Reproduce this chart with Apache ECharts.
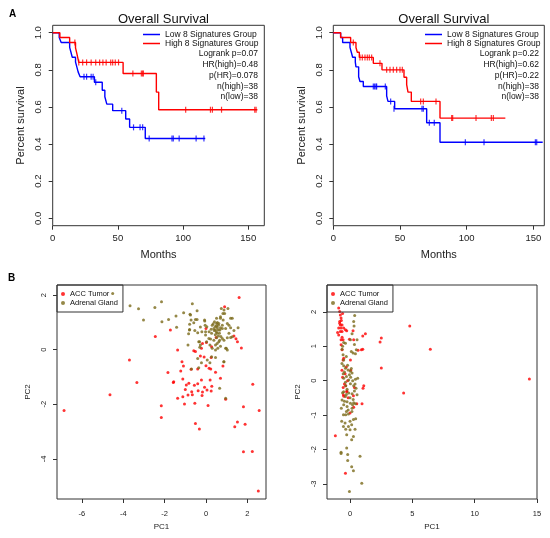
<!DOCTYPE html>
<html>
<head>
<meta charset="utf-8">
<script src="https://cdn.jsdelivr.net/npm/echarts@6/dist/echarts.min.js"></script>
<style>
  html, body { margin: 0; padding: 0; background: #fff; }
  #main { width: 550px; height: 538px; }
</style>
</head>
<body>
<div id="main"></div>
<script>
// Kaplan-Meier steps: [month, survival] (survival holds from that month on)
var kmLeftLow = [[0,1],[5,0.974],[6.5,0.947],[13,0.921],[14,0.895],[15,0.868],[17.5,0.842],[18.5,0.816],[19.5,0.789],[21,0.763],[32,0.733],[38,0.69],[40,0.655],[41.5,0.615],[46,0.58],[56,0.535],[59,0.49],[71,0.43],[117,0.43]];
var kmLeftHigh = [[0,1],[5.5,0.974],[13,0.947],[17.5,0.918],[18.5,0.889],[20,0.84],[54,0.78],[79.5,0.68],[81.3,0.585],[157,0.585]];
var censLeftLow = [[24,0.763],[26,0.763],[29.5,0.763],[31,0.763],[33,0.733],[53,0.58],[62,0.49],[67,0.49],[69,0.49],[74,0.43],[91.5,0.43],[92.5,0.43],[97,0.43],[110,0.43],[116,0.43]];
var censLeftHigh = [[17,0.947],[20,0.84],[23,0.84],[26,0.84],[29.5,0.84],[33,0.84],[36,0.84],[38.5,0.84],[41,0.84],[44.5,0.84],[46,0.84],[48,0.84],[50.5,0.84],[61.5,0.78],[68,0.78],[69,0.78],[69.5,0.78],[102,0.585],[121,0.585],[122.5,0.585],[129.5,0.585],[155,0.585],[156,0.585]];

var kmRightLow = [[0,1],[5.5,0.974],[7,0.947],[12.5,0.921],[13.5,0.895],[14.5,0.868],[16.5,0.842],[17,0.816],[19,0.763],[20,0.737],[22.5,0.71],[40,0.66],[41,0.63],[46,0.59],[70,0.515],[80,0.41],[157,0.41]];
var kmRightHigh = [[0,1],[5.5,0.974],[13,0.947],[17,0.92],[18,0.895],[19.5,0.867],[30,0.835],[36.5,0.8],[53,0.76],[55,0.72],[56,0.68],[58.5,0.63],[80,0.54],[129,0.54]];
var censRightLow = [[30,0.71],[31,0.71],[32,0.71],[32.5,0.71],[39,0.71],[43,0.63],[45.5,0.59],[66.5,0.59],[67.5,0.59],[72,0.515],[75.7,0.515],[99,0.41],[113,0.41],[151.5,0.41],[152.5,0.41]];
var censRightHigh = [[15,0.947],[20,0.867],[21.75,0.867],[23.75,0.867],[25.5,0.867],[27,0.867],[28.75,0.867],[35,0.835],[40,0.8],[42.5,0.8],[45,0.8],[47.5,0.8],[50,0.8],[51.75,0.8],[65.5,0.63],[67.5,0.63],[77,0.63],[88.75,0.54],[89.5,0.54],[107,0.54],[118.5,0.54],[120,0.54]];

var statsLeft = ['Logrank p=0.07', 'HR(high)=0.48', 'p(HR)=0.078', 'n(high)=38', 'n(low)=38'];
var statsRight = ['Logrank p=0.22', 'HR(high)=0.62', 'p(HR)=0.22', 'n(high)=38', 'n(low)=38'];

var kmYTicks = [0, 0.2, 0.4, 0.6, 0.8, 1.0];
var kmXTicks = [0, 50, 100, 150];

// PCA scatter points [PC1, PC2]
var pcaLeftTumor = [[1.6,1.91],[-6.86,-2.23],[-4.64,-1.65],[-3.7,-0.38],[-3.34,-1.2],[-2.45,0.48],[-2.16,-2.05],[-2.16,-2.48],[-1.72,0.72],[-1.84,-0.84],[-1.58,-1.2],[-1.37,-0.01],[-1.37,-1.78],[-1.16,-0.44],[-1.09,-0.6],[-1.22,-0.78],[-1.12,-1.07],[-1.0,-1.46],[-1.12,-1.72],[-1.04,-1.99],[-0.95,-1.29],[-0.87,-1.66],[-0.83,-1.23],[-0.69,-1.54],[-0.66,-1.65],[-0.59,-0.04],[-0.56,-1.3],[-0.51,-2.7],[-0.54,-1.96],[-0.4,-0.71],[-0.38,-1.5],[-0.32,-2.91],[-0.27,-0.23],[-0.22,-1.11],[-0.19,-1.68],[-0.17,-1.55],[-0.09,-0.27],[-0.07,-1.38],[0.0,-0.59],[0.02,0.26],[0.05,-1.48],[0.1,-2.04],[0.15,-0.68],[0.2,-1.11],[0.23,-0.71],[0.25,-1.51],[0.28,-1.34],[0.46,-0.83],[0.49,0.45],[0.7,-1.05],[0.82,-0.6],[0.95,-1.82],[0.9,1.57],[1.35,0.5],[1.45,0.4],[1.52,0.29],[1.71,0.06],[2.26,-1.27],[1.81,-2.09],[1.89,-2.73],[1.52,-2.65],[1.39,-2.82],[1.81,-3.74],[2.24,-3.73],[2.57,-2.23],[2.53,-5.18],[0.0,0.78],[0.27,0.11],[-0.17,0.23],[-0.22,0.05],[-0.51,-0.07],[0.25,-0.29],[-0.72,-0.72],[-1.56,-1.17],[-0.4,-1.25]];
var pcaLeftGland = [[-4.51,2.06],[-3.67,1.61],[-3.26,1.5],[-3.02,1.09],[-2.47,1.55],[-2.15,1.76],[-2.13,1.02],[-1.81,1.11],[-1.45,1.23],[-1.42,0.82],[-1.08,1.35],[-0.77,1.3],[-0.66,1.68],[-0.79,0.93],[-0.8,0.72],[-0.72,1.09],[-0.59,0.99],[-0.54,0.7],[-0.43,1.11],[-0.35,0.29],[-0.3,0.09],[-0.2,0.66],[-0.07,1.09],[-0.04,0.9],[-0.02,0.54],[0.04,0.84],[0.15,0.66],[0.19,0.17],[0.22,0.39],[0.27,0.6],[0.3,0.9],[0.38,0.78],[0.38,0.35],[0.41,1.02],[0.46,0.72],[0.46,0.17],[0.51,1.15],[0.51,0.87],[0.54,0.6],[0.57,0.05],[0.62,0.96],[0.62,0.29],[0.67,0.72],[0.7,1.21],[0.72,0.48],[0.74,1.51],[0.79,0.9],[0.83,1.09],[0.87,0.35],[0.9,1.33],[0.95,0.78],[0.98,0.05],[1.03,0.96],[1.11,0.6],[1.19,0.45],[1.27,1.15],[1.35,0.7],[1.55,0.8],[0.87,-0.44],[0.19,-0.48],[-0.7,-0.71],[0.06,-0.38],[0.66,-1.41],[0.95,-1.78],[-0.75,1.27],[-0.43,1.43],[-0.51,1.11],[-0.79,0.74],[-0.84,0.58],[-0.27,0.83],[-0.06,1.05],[0.87,1.45],[1.06,1.51],[0.82,1.33],[1.19,1.15],[0.7,1.15],[0.51,0.96],[0.59,0.72],[0.79,0.78],[1.11,0.9],[1.19,0.8],[1.27,0.47],[1.03,0.44],[0.79,0.41],[0.66,0.35],[0.51,0.44],[0.54,0.23],[0.7,0.13],[0.95,0.05],[1.03,-0.01],[0.14,0.41],[0.03,0.29],[0.3,0.05],[0.46,-0.01],[-0.31,0.29],[-0.27,0.17],[-0.4,0.62],[-0.02,0.66],[0.27,-0.26],[0.46,-0.29],[-0.4,-0.32],[0.86,-0.44],[-0.22,-0.48],[-0.35,-0.66],[-0.87,0.17],[0.35,0.95],[0.45,0.85],[0.55,0.8],[0.6,0.9],[0.4,0.7],[0.5,0.65],[0.65,0.6],[0.7,0.8],[0.25,0.75],[0.55,1.0],[0.45,0.55],[0.6,0.5]];

var pcaRightTumor = [[4.79,1.59],[6.44,0.91],[2.51,1.24],[2.41,1.12],[2.51,0.37],[4.3,-0.36],[14.39,0.05],[1.23,1.36],[1.02,1.3],[1.02,0.91],[0.91,0.9],[0.64,0.88],[1.1,-0.15],[1.04,-0.22],[0.96,-0.67],[0.24,1.45],[0.29,1.19],[0.03,0.6],[-1.18,-1.6],[-0.37,-2.69],[0.29,-0.77],[0.0,-0.94],[-0.91,2.11],[-0.83,2.01],[-0.78,1.91],[-0.72,1.82],[-0.83,1.72],[-0.78,1.62],[-0.64,1.62],[-0.91,1.53],[-0.72,1.53],[-0.51,1.53],[-0.37,1.48],[-0.64,1.43],[-0.78,1.43],[-0.27,1.45],[-0.91,1.33],[-0.64,1.26],[-0.56,1.19],[-0.72,1.19],[-0.72,1.04],[-0.64,0.9],[-0.51,0.65],[-0.56,0.6],[-0.83,1.67],[-0.7,1.75],[-0.6,1.95],[-0.05,1.2],[-0.2,0.0],[-0.45,-0.1],[-0.35,-0.15],[-0.55,-0.2],[-0.25,-0.3],[-0.6,0.1],[-0.4,0.2],[-0.15,-0.5],[-0.5,-0.45],[0.35,-0.2],[-0.3,0.4],[0.05,0.3],[-0.65,0.3],[-1.0,1.4],[-0.54,-0.41],[-0.27,-0.32],[0.27,-0.44],[0.54,-0.67]];
var pcaRightGland = [[0.37,1.89],[0.29,1.72],[0.32,1.59],[0.16,1.36],[0.03,1.19],[-0.51,1.11],[-0.37,1.09],[-0.64,0.91],[0.24,0.8],[0.43,0.78],[0.56,1.19],[-0.56,0.75],[-0.51,0.6],[-0.51,0.43],[-0.37,0.36],[-0.16,0.31],[0.03,0.27],[0.16,0.22],[-0.05,0.17],[-0.29,0.12],[-0.51,0.07],[-0.11,0.02],[0.21,0.0],[0.43,0.04],[0.61,0.07],[-0.37,-0.05],[0.03,-0.09],[0.29,-0.15],[0.48,-0.22],[-0.24,-0.25],[-0.51,-0.32],[-0.11,-0.36],[0.16,-0.38],[0.56,-0.41],[-0.37,-0.46],[-0.64,-0.56],[-0.24,-0.61],[0.03,-0.66],[0.29,-0.64],[0.43,-0.67],[-0.51,-0.7],[-0.24,-0.75],[0.16,-0.8],[-0.29,-0.9],[-0.45,0.25],[-0.2,0.45],[0.1,0.35],[-0.35,-0.15],[0.35,-0.3],[-0.6,-0.35],[0.0,-0.5],[-0.15,-0.85],[0.25,-0.55],[-0.45,-0.6],[0.05,0.1],[-0.3,-0.4],[0.4,-0.1],[-0.55,0.2],[0.2,-0.7],[0.5,0.9],[-0.6,1.0],[0.1,0.85],[-0.65,0.5],[0.35,1.05],[-0.3,0.7],[-0.7,-0.8],[0.15,-0.9],[-0.53,-0.99],[-0.35,-0.99],[-0.13,-0.97],[-0.67,-1.18],[-0.4,-1.23],[0.0,-1.18],[0.27,-1.13],[0.45,-1.11],[-0.53,-1.33],[-0.13,-1.33],[0.13,-1.28],[-0.35,-1.41],[0.0,-1.43],[-0.27,-1.57],[0.4,-1.41],[0.27,-1.62],[0.13,-1.72],[-0.27,-1.96],[-0.72,-2.08],[-0.72,-2.12],[-0.19,-2.15],[0.8,-2.2],[-0.19,-2.32],[0.13,-2.5],[0.27,-2.62],[0.94,-2.98],[-0.05,-3.22]];

var pcaLeftXTicks = [-6, -4, -2, 0, 2];
var pcaLeftYTicks = [-4, -2, 0, 2];
var pcaRightXTicks = [0, 5, 10, 15];
var pcaRightYTicks = [-3, -2, -1, 0, 1, 2];

var FONT = 'Liberation Sans, Arial, Helvetica, sans-serif';
var BLUE = '#0000ff', RED = '#ff0000', OLIVE = '#7a6a1a';

var myChart = echarts.init(document.getElementById('main'));

function axisX(idx, min, max, ticks, name, fs, margin, gap, nameFs) {
    return {
        gridIndex: idx, type: 'value', min: min, max: max, position: 'bottom',
        name: name, nameLocation: 'middle', nameGap: gap,
        nameTextStyle: { fontFamily: FONT, fontSize: nameFs, color: '#222' },
        axisLine: { show: false, onZero: false },
        axisTick: { show: true, inside: false, length: 4, customValues: ticks, lineStyle: { color: '#333' } },
        axisLabel: { customValues: ticks, fontFamily: FONT, fontSize: fs, color: '#222', margin: margin },
        splitLine: { show: false }
    };
}
function axisY(idx, min, max, ticks, name, fs, margin, gap, nameFs, fmt) {
    return {
        gridIndex: idx, type: 'value', min: min, max: max, position: 'left',
        name: name, nameLocation: 'middle', nameGap: gap,
        nameTextStyle: { fontFamily: FONT, fontSize: nameFs, color: '#222' },
        axisLine: { show: false, onZero: false },
        axisTick: { show: true, inside: false, length: 4, customValues: ticks, lineStyle: { color: '#333' } },
        axisLabel: { customValues: ticks, rotate: 90, fontFamily: FONT, fontSize: fs, color: '#222', margin: margin, formatter: fmt },
        splitLine: { show: false }
    };
}

function kmLine(name, data, color, idx) {
    return { name: name, type: 'line', step: 'end', data: data, xAxisIndex: idx, yAxisIndex: idx,
             showSymbol: false, lineStyle: { color: color, width: 1.4 }, itemStyle: { color: color }, z: 3 };
}
function censor(name, data, color, idx) {
    return { name: name, type: 'scatter', data: data, xAxisIndex: idx, yAxisIndex: idx,
             symbol: 'rect', symbolSize: [1.2, 6], itemStyle: { color: color }, z: 4 };
}
function dots(name, data, color, idx) {
    return { name: name, type: 'scatter', data: data, xAxisIndex: idx, yAxisIndex: idx,
             symbol: 'circle', symbolSize: 3, itemStyle: { color: color } };
}
function statsText(lines, x) {
    var ys = [54, 64.5, 75.5, 86.5, 97];
    return lines.map(function (t, i) {
        return { type: 'text', x: x, y: ys[i],
                 style: { text: t, fill: '#111', font: '8.5px ' + FONT, textAlign: 'right', textVerticalAlign: 'middle' } };
    });
}
var fmt1 = function (v) { return v.toFixed(1); };
var kmLegend = function (left) {
    return { left: left, top: 30, orient: 'vertical', padding: 0, itemGap: 0,
             itemWidth: 17, itemHeight: 1.5, icon: 'rect',
             data: ['Low 8 Signatures Group', 'High 8 Signatures Group'],
             textStyle: { fontFamily: FONT, fontSize: 8.5, color: '#111', lineHeight: 9 } };
};
var pcaLegend = function (left) {
    return { left: left, top: 285, orient: 'vertical', padding: [5, 5, 5, 4], itemGap: 1,
             itemWidth: 4, itemHeight: 4, icon: 'circle',
             borderColor: '#333', borderWidth: 1,
             data: ['ACC Tumor', 'Adrenal Gland'],
             textStyle: { fontFamily: FONT, fontSize: 7.5, color: '#111', lineHeight: 8 } };
};

myChart.setOption({
    animation: false,
    backgroundColor: '#fff',
    title: [
        { text: 'Overall Survival', left: 158.5, top: 8, textAlign: 'center',
          textStyle: { fontFamily: FONT, fontSize: 13, fontWeight: 'normal', color: '#111' } },
        { text: 'Overall Survival', left: 438.8, top: 8, textAlign: 'center',
          textStyle: { fontFamily: FONT, fontSize: 13, fontWeight: 'normal', color: '#111' } },
        { text: 'A', left: 4, top: 4, textStyle: { fontFamily: FONT, fontSize: 10, fontWeight: 'bold', color: '#000' } },
        { text: 'B', left: 3, top: 268, textStyle: { fontFamily: FONT, fontSize: 10, fontWeight: 'bold', color: '#000' } }
    ],
    legend: [kmLegend(143), kmLegend(425), pcaLegend(57), pcaLegend(327)],
    grid: [
        { left: 52.7, top: 25.3, width: 211.6, height: 200.4, show: true, borderColor: '#333', borderWidth: 1 },
        { left: 333.3, top: 25.3, width: 211, height: 200.4, show: true, borderColor: '#333', borderWidth: 1 },
        { left: 57, top: 285, width: 209, height: 214, show: true, borderColor: '#333', borderWidth: 1 },
        { left: 327, top: 285, width: 210, height: 214, show: true, borderColor: '#333', borderWidth: 1 }
    ],
    xAxis: [
        axisX(0, 0, 162.3, kmXTicks, 'Months', 9.5, 8, 24, 11),
        axisX(1, 0, 158.2, kmXTicks, 'Months', 9.5, 8, 24, 11),
        axisX(2, -7.2, 2.9, pcaLeftXTicks, 'PC1', 7.5, 11, 24, 8),
        axisX(3, -1.85, 15.0, pcaRightXTicks, 'PC1', 7.5, 11, 24, 8)
    ],
    yAxis: [
        axisY(0, -0.04, 1.04, kmYTicks, 'Percent survival', 9.5, 9, 26, 11, fmt1),
        axisY(1, -0.04, 1.04, kmYTicks, 'Percent survival', 9.5, 9, 26, 11, fmt1),
        axisY(2, -5.47, 2.37, pcaLeftYTicks, 'PC2', 7.5, 9.5, 25, 8),
        axisY(3, -3.44, 2.78, pcaRightYTicks, 'PC2', 7.5, 8.7, 25, 8)
    ],
    graphic: statsText(statsLeft, 258).concat(statsText(statsRight, 539)),
    series: [
        kmLine('Low 8 Signatures Group', kmLeftLow, BLUE, 0),
        kmLine('High 8 Signatures Group', kmLeftHigh, RED, 0),
        censor('Low censored L', censLeftLow, BLUE, 0),
        censor('High censored L', censLeftHigh, RED, 0),
        kmLine('Low 8 Signatures Group', kmRightLow, BLUE, 1),
        kmLine('High 8 Signatures Group', kmRightHigh, RED, 1),
        censor('Low censored R', censRightLow, BLUE, 1),
        censor('High censored R', censRightHigh, RED, 1),
        dots('ACC Tumor', pcaLeftTumor, RED, 2),
        dots('Adrenal Gland', pcaLeftGland, OLIVE, 2),
        dots('ACC Tumor', pcaRightTumor, RED, 3),
        dots('Adrenal Gland', pcaRightGland, OLIVE, 3)
    ]
});
</script>
</body>
</html>
